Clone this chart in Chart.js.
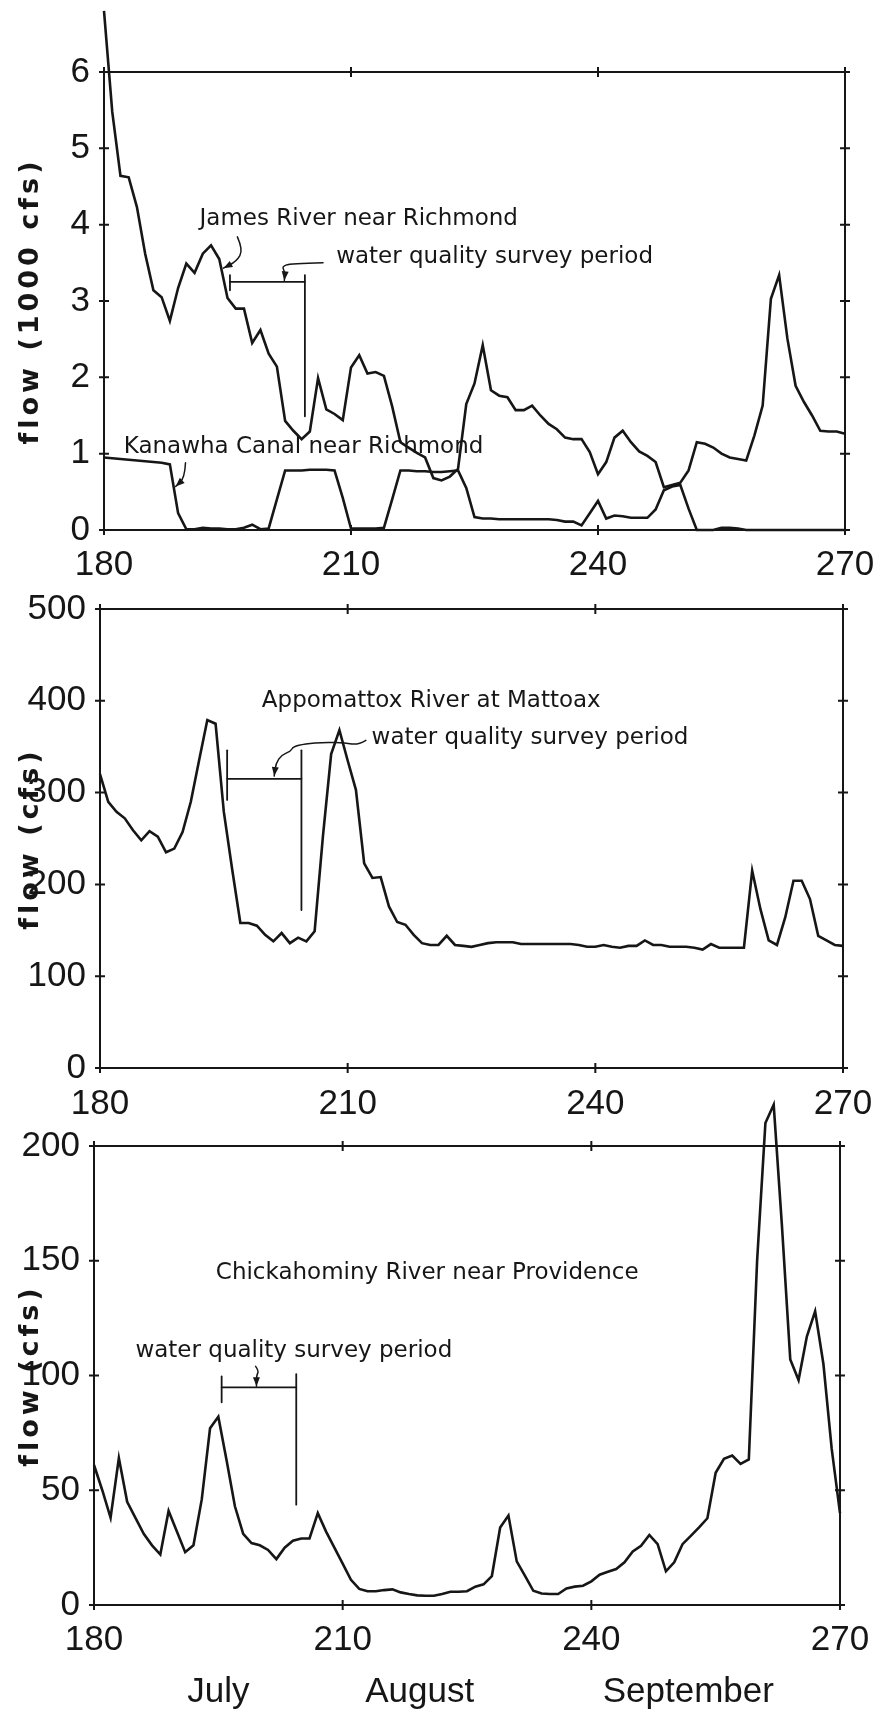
<!DOCTYPE html>
<html>
<head>
<meta charset="utf-8">
<script src="https://cdn.jsdelivr.net/npm/chart.js@4.4.1/dist/chart.umd.min.js"></script>
<style>
  html, body { margin: 0; padding: 0; background: #fff; }
  #page { position: relative; width: 882px; height: 1712px; }
  #page canvas { position: absolute; left: 0; top: 0; }
</style>
</head>
<body>
<div id="page">
  <canvas id="james" width="882" height="1712"></canvas>
  <canvas id="appomattox" width="882" height="1712"></canvas>
  <canvas id="chickahominy" width="882" height="1712"></canvas>
</div>
<script>
// day of year, one reading per day
const days = [
  180, 181, 182, 183, 184, 185, 186, 187, 188, 189,
  190, 191, 192, 193, 194, 195, 196, 197, 198, 199,
  200, 201, 202, 203, 204, 205, 206, 207, 208, 209,
  210, 211, 212, 213, 214, 215, 216, 217, 218, 219,
  220, 221, 222, 223, 224, 225, 226, 227, 228, 229,
  230, 231, 232, 233, 234, 235, 236, 237, 238, 239,
  240, 241, 242, 243, 244, 245, 246, 247, 248, 249,
  250, 251, 252, 253, 254, 255, 256, 257, 258, 259,
  260, 261, 262, 263, 264, 265, 266, 267, 268, 269,
  270,
];

// 1000 cfs
const jamesRiver = [
  6.80, 5.48, 4.64, 4.62, 4.23, 3.62, 3.14, 3.05, 2.74, 3.17,
  3.49, 3.37, 3.62, 3.73, 3.55, 3.04, 2.90, 2.90, 2.45, 2.62,
  2.31, 2.14, 1.43, 1.30, 1.19, 1.29, 1.99, 1.58, 1.52, 1.44,
  2.13, 2.29, 2.05, 2.07, 2.02, 1.62, 1.15, 1.08, 1.01, 0.95,
  0.68, 0.65, 0.70, 0.80, 1.65, 1.92, 2.42, 1.83, 1.76, 1.74,
  1.57, 1.57, 1.63, 1.50, 1.39, 1.32, 1.21, 1.19, 1.19, 1.02,
  0.73, 0.89, 1.21, 1.30, 1.15, 1.03, 0.97, 0.89, 0.56, 0.59,
  0.62, 0.78, 1.15, 1.13, 1.08, 1.00, 0.95, 0.93, 0.91, 1.24,
  1.63, 3.03, 3.34, 2.51, 1.89, 1.68, 1.50, 1.30, 1.29, 1.29,
  1.26,
];

const kanawhaCanal = [
  0.95, 0.94, 0.93, 0.92, 0.91, 0.90, 0.89, 0.88, 0.86, 0.22,
  0.01, 0.01, 0.03, 0.02, 0.02, 0.01, 0.01, 0.03, 0.07, 0.01,
  0.02, 0.40, 0.78, 0.78, 0.78, 0.79, 0.79, 0.79, 0.78, 0.42,
  0.02, 0.02, 0.02, 0.02, 0.03, 0.40, 0.78, 0.78, 0.77, 0.77,
  0.76, 0.76, 0.77, 0.78, 0.55, 0.17, 0.15, 0.15, 0.14, 0.14,
  0.14, 0.14, 0.14, 0.14, 0.14, 0.13, 0.11, 0.11, 0.06, 0.22,
  0.38, 0.15, 0.19, 0.18, 0.16, 0.16, 0.16, 0.27, 0.52, 0.57,
  0.59, 0.28, 0.00, 0.00, 0.00, 0.03, 0.03, 0.02, 0.00, 0.00,
  0.00, 0.00, 0.00, 0.00, 0.00, 0.00, 0.00, 0.00, 0.00, 0.00,
  0.00,
];

// cfs
const appomattoxRiver = [
  320, 290, 279, 272, 259, 248, 258, 252, 235, 239,
  257, 290, 335, 379, 375, 279, 217, 158, 158, 155,
  145, 138, 147, 136, 142, 138, 149, 252, 342, 368,
  335, 303, 223, 207, 208, 176, 159, 156, 145, 136,
  134, 134, 144, 134, 133, 132, 134, 136, 137, 137,
  137, 135, 135, 135, 135, 135, 135, 135, 134, 132,
  132, 134, 132, 131, 133, 133, 139, 134, 134, 132,
  132, 132, 131, 129, 135, 131, 131, 131, 131, 215,
  173, 139, 134, 164, 204, 204, 184, 144, 139, 134,
  133,
];

const chickahominyRiver = [
  61, 50, 38, 64, 45, 38, 31, 26, 22, 41,
  32, 23, 26, 46, 77, 82, 63, 43, 31, 27,
  26, 24, 20, 25, 28, 29, 29, 40, 32, 25,
  18, 11, 7, 6, 6, 6.5, 6.8, 5.5, 4.8, 4.2,
  4, 4, 4.8, 5.8, 5.8, 6, 8, 9, 12.6, 33.8,
  39, 19, 12.7, 6.2, 5, 4.8, 4.8, 7.2, 8, 8.4,
  10.3, 13.2, 14.5, 15.7, 18.6, 23.3, 25.8, 30.5, 26.5, 14.7,
  18.6, 26.5, 30.1, 33.8, 37.8, 57.6, 63.7, 65.1, 61.5, 63.4,
  150, 210, 218, 165, 107, 98, 117, 128, 105, 68,
  40,
];

const dayTicks = [180, 210, 240, 270];
const monthNames = ['July', 'August', 'September'];

const ink = '#161616';
const tickFont = { family: '"Liberation Sans", Arial, sans-serif', size: 35 };
const noteFont = '23px "DejaVu Sans", sans-serif';
const titleFont = 'bold 27px "DejaVu Sans", sans-serif';
const X_AXIS_H = 60;

// box around the plot with small ticks crossing every side
const frame = {
  id: 'frame',
  beforeDatasetsDraw(chart) {
    const { ctx, chartArea: a, scales: { x, y } } = chart;
    ctx.save();
    ctx.strokeStyle = ink;
    ctx.lineWidth = 2;
    ctx.strokeRect(a.left, a.top, a.right - a.left, a.bottom - a.top);
    ctx.beginPath();
    y.ticks.forEach((t) => {
      const py = y.getPixelForValue(t.value);
      ctx.moveTo(a.left - 5, py); ctx.lineTo(a.left + 5, py);
      ctx.moveTo(a.right - 5, py); ctx.lineTo(a.right + 5, py);
    });
    x.ticks.forEach((t) => {
      const px = x.getPixelForValue(t.value);
      ctx.moveTo(px, a.top - 5); ctx.lineTo(px, a.top + 5);
      ctx.moveTo(px, a.bottom - 5); ctx.lineTo(px, a.bottom + 5);
    });
    ctx.stroke();
    ctx.restore();
  },
};

// rotated, letter-spaced axis title
const sideTitle = {
  id: 'sideTitle',
  afterDraw(chart, args, opts) {
    const { ctx, chartArea: a } = chart;
    ctx.save();
    ctx.translate(opts.baseline, (a.top + a.bottom) / 2);
    ctx.rotate(-Math.PI / 2);
    ctx.font = titleFont;
    ctx.letterSpacing = '4px';
    ctx.fillStyle = ink;
    ctx.textAlign = 'center';
    ctx.textBaseline = 'alphabetic';
    ctx.fillText(opts.text, 0, 0);
    ctx.restore();
  },
};

// station names, survey-period bracket and the hand-drawn pointers
const notes = {
  id: 'notes',
  afterDatasetsDraw(chart, args, opts) {
    const { ctx, chartArea: a, scales: { x, y } } = chart;
    const px = (p) => [x.getPixelForValue(p[0]), y.getPixelForValue(p[1])];
    ctx.save();
    ctx.fillStyle = ink;
    ctx.strokeStyle = ink;
    ctx.font = noteFont;
    ctx.textBaseline = 'middle';
    (opts.labels || []).forEach((l) => {
      const [lx, ly] = px(l.at);
      ctx.fillText(l.text, lx, ly);
    });

    ctx.lineWidth = 1.8;
    ctx.lineCap = 'round';
    ctx.lineJoin = 'round';
    (opts.rules || []).forEach((r) => {
      ctx.beginPath();
      r.map(px).forEach(([rx, ry], i) => (i ? ctx.lineTo(rx, ry) : ctx.moveTo(rx, ry)));
      ctx.stroke();
    });

    ctx.lineWidth = 1.5;
    (opts.leaders || []).forEach((l) => {
      const pts = l.map(px);
      ctx.beginPath();
      ctx.moveTo(pts[0][0], pts[0][1]);
      for (let i = 1; i < pts.length - 1; i++) {
        const mx = (pts[i][0] + pts[i + 1][0]) / 2;
        const my = (pts[i][1] + pts[i + 1][1]) / 2;
        ctx.quadraticCurveTo(pts[i][0], pts[i][1], mx, my);
      }
      const end = pts[pts.length - 1];
      const prev = pts[pts.length - 2];
      ctx.lineTo(end[0], end[1]);
      ctx.stroke();
      const ang = Math.atan2(end[1] - prev[1], end[0] - prev[0]);
      ctx.beginPath();
      ctx.moveTo(end[0], end[1]);
      ctx.lineTo(end[0] - 9 * Math.cos(ang) + 3.5 * Math.sin(ang), end[1] - 9 * Math.sin(ang) - 3.5 * Math.cos(ang));
      ctx.lineTo(end[0] - 9 * Math.cos(ang) - 3.5 * Math.sin(ang), end[1] - 9 * Math.sin(ang) + 3.5 * Math.cos(ang));
      ctx.closePath();
      ctx.fill();
    });

    if (opts.months) {
      ctx.font = `${tickFont.size}px ${tickFont.family}`;
      ctx.textAlign = 'center';
      opts.months.names.forEach((name, i) => {
        ctx.fillText(name, x.getPixelForValue(opts.months.at[i]), a.bottom + opts.months.offset);
      });
    }
    ctx.restore();
  },
};

const flowChart = (id, box, yAxis, series, title, noteOpts) =>
  new Chart(document.getElementById(id), {
    type: 'line',
    data: {
      datasets: series.map((values) => ({
        data: values.map((v, i) => ({ x: days[i], y: v })),
        borderColor: ink,
        borderWidth: 2.6,
        pointRadius: 0,
        tension: 0,
        clip: false,
      })),
    },
    options: {
      responsive: false,
      animation: false,
      devicePixelRatio: 1,
      events: [],
      layout: {
        padding: { left: 0, top: box.top, right: 882 - box.right, bottom: 1712 - box.bottom - X_AXIS_H },
      },
      scales: {
        x: {
          type: 'linear',
          min: 180,
          max: 270,
          afterBuildTicks: (s) => { s.ticks = dayTicks.map((value) => ({ value })); },
          afterFit: (s) => { s.height = X_AXIS_H; },
          grid: { display: false },
          border: { display: false },
          ticks: { font: tickFont, color: ink, padding: box.labelGap, maxRotation: 0 },
        },
        y: {
          min: yAxis.min,
          max: yAxis.max,
          afterFit: (s) => { s.width = box.left; },
          grid: { display: false },
          border: { display: false },
          ticks: { stepSize: yAxis.step, font: tickFont, color: ink, padding: 6 },
        },
      },
      plugins: {
        legend: { display: false },
        tooltip: { enabled: false },
        sideTitle: { text: title, baseline: 38 },
        notes: noteOpts,
      },
    },
    plugins: [frame, sideTitle, notes],
  });

flowChart(
  'james',
  { left: 104, right: 845, top: 72, bottom: 530, labelGap: 6 },
  { min: 0, max: 6, step: 1 },
  [jamesRiver, kanawhaCanal],
  'flow (1000 cfs)',
  {
    labels: [
      { text: 'James River near Richmond', at: [191.6, 4.07] },
      { text: 'water quality survey period', at: [208.2, 3.57] },
      { text: 'Kanawha Canal near Richmond', at: [182.4, 1.09] },
    ],
    rules: [
      [[195.3, 3.14], [195.3, 3.34]],
      [[195.3, 3.25], [204.4, 3.25]],
      [[204.4, 3.34], [204.4, 1.49]],
    ],
    leaders: [
      [[206.6, 3.50], [202.6, 3.49], [201.6, 3.45], [202.0, 3.38], [201.9, 3.27]],
      [[196.2, 3.84], [196.9, 3.67], [196.1, 3.52], [194.5, 3.43]],
      [[189.9, 0.88], [189.8, 0.68], [188.7, 0.57]],
    ],
  }
);

flowChart(
  'appomattox',
  { left: 100, right: 843, top: 609, bottom: 1068, labelGap: 7 },
  { min: 0, max: 500, step: 100 },
  [appomattoxRiver],
  'flow (cfs)',
  {
    labels: [
      { text: 'Appomattox River at Mattoax', at: [199.6, 400] },
      { text: 'water quality survey period', at: [212.9, 359] },
    ],
    rules: [
      [[195.4, 292], [195.4, 346]],
      [[195.4, 315], [204.4, 315]],
      [[204.4, 346], [204.4, 172]],
    ],
    leaders: [
      [[212.2, 357], [211.3, 352], [209.7, 354], [207.3, 355], [204.8, 353], [203.4, 350], [203.1, 345], [202.0, 341], [201.3, 332], [201.1, 318]],
    ],
  }
);

flowChart(
  'chickahominy',
  { left: 94, right: 840, top: 1146, bottom: 1605, labelGap: 6 },
  { min: 0, max: 200, step: 50 },
  [chickahominyRiver],
  'flow (cfs)',
  {
    labels: [
      { text: 'Chickahominy River near Providence', at: [194.7, 144.5] },
      { text: 'water quality survey period', at: [185.0, 110.7] },
    ],
    rules: [
      [[195.4, 88.3], [195.4, 99.6]],
      [[195.4, 94.8], [204.4, 94.8]],
      [[204.4, 100.6], [204.4, 43.7]],
    ],
    leaders: [
      [[199.5, 104], [199.9, 102], [199.6, 100], [199.6, 95.3]],
    ],
    months: { names: monthNames, at: [195.0, 219.3, 251.7], offset: 87 },
  }
);
</script>
</body>
</html>
